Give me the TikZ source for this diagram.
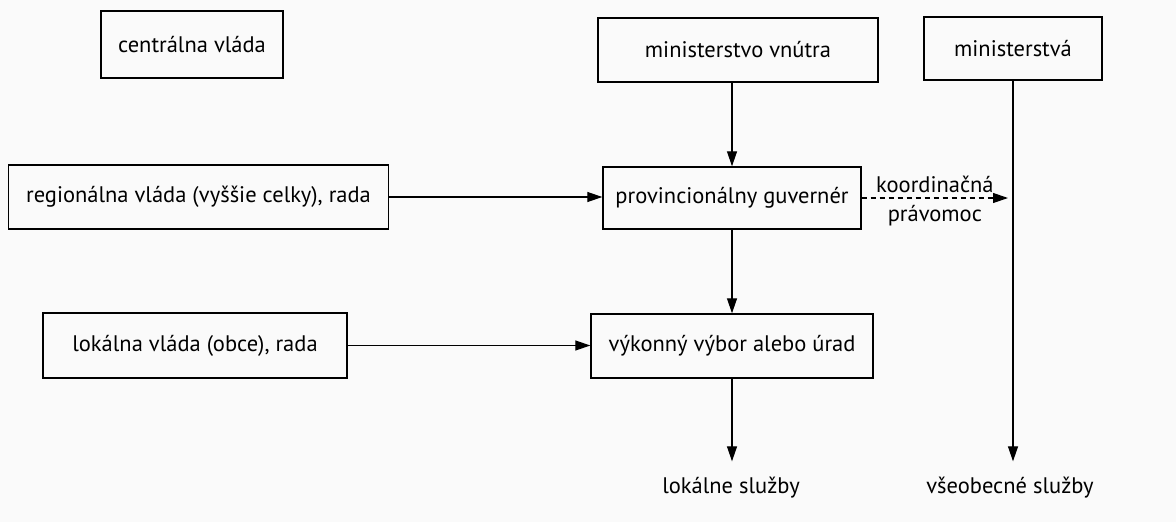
\documentclass[tikz,border=0pt]{standalone}
\usepackage{fontspec}
\setmainfont{PT Sans}
\usetikzlibrary{arrows.meta}
\begin{document}
\begin{tikzpicture}[x=1pt,y=-1pt,
  box/.style={draw, line width=1.4pt, minimum width=#1, inner sep=0pt},
  lbl/.style={inner sep=0pt},
  arr/.style={line width=1.2pt, -{Triangle[length=15pt,width=10pt]}},
  darr/.style={line width=1.2pt, dash pattern=on 5pt off 4pt, -{Triangle[length=15pt,width=10pt]}},
  font=\fontsize{22.5}{26}\selectfont]
  \fill[black!2] (0,0) rectangle (1176,522);
  \useasboundingbox (0,0) rectangle (1176,522);

  % boxes
  \node[box=182pt, minimum height=67pt] (central) at (192,44.5) {centrálna vláda};
  \node[box=380pt, minimum height=64pt] (regional) at (198.5,197) {regionálna vláda (vyššie celky), rada};
  \node[box=304pt, minimum height=65pt] (local) at (195,345.5) {lokálna vláda (obce), rada};
  \node[box=280pt, minimum height=64pt] (interior) at (738,50) {ministerstvo vnútra};
  \node[box=178pt, minimum height=63pt] (ministries) at (1013,48.5) {ministerstvá};
  \node[box=258pt, minimum height=62pt] (governor) at (732,198) {provincionálny guvernér};
  \node[box=282pt, minimum height=64pt] (executive) at (732,346) {výkonný výbor alebo úrad};

  % service labels
  \node[lbl, anchor=base] (localserv) at (731,493) {lokálne služby};
  \node[lbl, anchor=base] (generalserv) at (1010,493) {všeobecné služby};

  % connectors
  \draw[arr] (regional.east) -- (regional.east -| governor.west);
  \draw[arr] (local.east) -- (local.east -| executive.west);
  \draw[arr] (interior.south -| governor.north) -- (governor.north);
  \draw[arr] (governor.south) -- (executive.north);
  \draw[arr] (executive.south) -- ([yshift=15pt]executive.south |- localserv.north);
  \draw[arr] (ministries.south) -- ([yshift=15pt]ministries.south |- generalserv.north);
  \draw[darr] (governor.east) -- ([xshift=-5pt]governor.east -| ministries.south)
    node[midway, above=5pt, lbl] {koordinačná}
    node[midway, below=7pt, lbl] {právomoc};
\end{tikzpicture}
\end{document}
